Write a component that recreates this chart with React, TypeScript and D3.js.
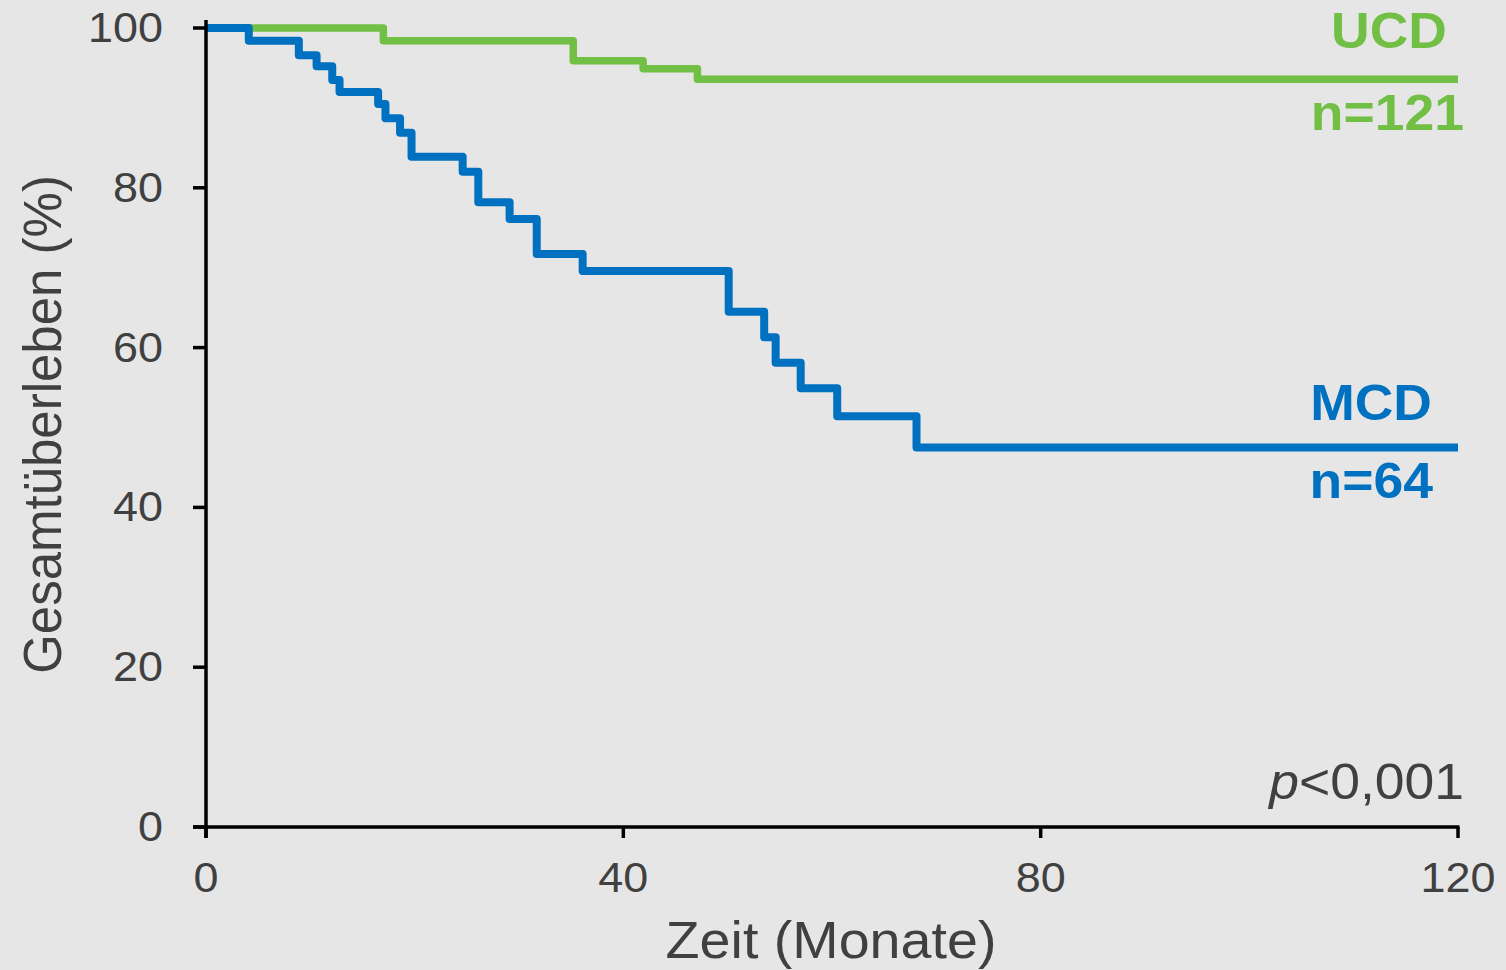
import { useEffect, ReactNode } from "react";
import * as d3 from "d3";

const WIDTH = 1506;
const HEIGHT = 970;
const MARGIN = { top: 28, right: 48, bottom: 143, left: 206 };
// the reference picture is a little wider than tall, text included
const STRETCH = 1.07;

// Kaplan-Meier steps (months, % survival)
const mcdTimes = [0, 4.1, 8.9, 10.6, 12.1, 12.8, 16.5, 17.2, 18.6, 19.7, 24.6, 26.1, 29.1, 31.7, 36.1, 50.1, 53.5, 54.6, 57.0, 60.5, 68.1, 120];
const mcdSurvival = [100, 98.4, 96.6, 95.2, 93.5, 92.0, 90.5, 88.7, 86.9, 83.9, 82.0, 78.2, 76.1, 71.7, 69.6, 64.5, 61.3, 58.1, 54.9, 51.4, 47.5, 47.5];

const ucdTimes = [0, 17.0, 35.2, 41.9, 47.1, 120];
const ucdSurvival = [100, 98.4, 95.9, 94.9, 93.6, 93.6];

const xTicks = [0, 40, 80, 120];
const yTicks = [0, 20, 40, 60, 80, 100];

const BLUE = "#0071C1";
const GREEN = "#71BF44";
const TEXT = "#404040";
const FONT = "'Liberation Sans', Arial, sans-serif";

type LabelProps = {
  x: number;
  y: number;
  rotate?: number;
  anchor?: "start" | "middle" | "end";
  size: number;
  bold?: boolean;
  fill: string;
  children: ReactNode;
};

const Label = ({ x, y, rotate = 0, anchor = "middle", size, bold, fill, children }: LabelProps) => (
  <g transform={`translate(${x},${y}) scale(${STRETCH},1) rotate(${rotate})`}>
    <text textAnchor={anchor} fontSize={size} fontWeight={bold ? "bold" : "normal"} fill={fill}>
      {children}
    </text>
  </g>
);

const App = () => {
  useEffect(() => {
    document.body.style.margin = "0";
    document.body.style.background = "#E6E6E6";
  }, []);

  const boundsWidth = WIDTH - MARGIN.left - MARGIN.right;
  const boundsHeight = HEIGHT - MARGIN.top - MARGIN.bottom;

  const xScale = d3.scaleLinear().domain([0, 120]).range([0, boundsWidth]);
  const yScale = d3.scaleLinear().domain([0, 100]).range([boundsHeight, 0]);

  const line = d3
    .line<[number, number]>()
    .x((d) => xScale(d[0]))
    .y((d) => yScale(d[1]))
    .curve(d3.curveStepAfter);

  const mcdPath = line(mcdTimes.map((t, i) => [t, mcdSurvival[i]]));
  const ucdPath = line(ucdTimes.map((t, i) => [t, ucdSurvival[i]]));

  const lastX = xScale(120);

  return (
    <svg width={WIDTH} height={HEIGHT} style={{ display: "block", background: "#E6E6E6" }}>
      <g transform={`translate(${MARGIN.left},${MARGIN.top})`} fontFamily={FONT}>
        {/* curves, green first so blue sits on top at 100% */}
        <path d={ucdPath ?? ""} fill="none" stroke={GREEN} strokeWidth={7.5} strokeLinejoin="round" />
        <path d={mcdPath ?? ""} fill="none" stroke={BLUE} strokeWidth={8} strokeLinejoin="round" />

        {/* y axis */}
        <line x1={0} x2={0} y1={-8} y2={boundsHeight + 11} stroke="black" strokeWidth={3.5} />
        {yTicks.map((t) => (
          <g key={t}>
            <line x1={-13} x2={0} y1={yScale(t)} y2={yScale(t)} stroke="black" strokeWidth={3.5} />
            <Label x={-43} y={yScale(t) + 14} anchor="end" size={42} fill={TEXT}>
              {t}
            </Label>
          </g>
        ))}

        {/* x axis */}
        <line x1={-13} x2={boundsWidth + 1.5} y1={boundsHeight} y2={boundsHeight} stroke="black" strokeWidth={3.5} />
        {xTicks.map((t) => (
          <g key={t}>
            <line x1={xScale(t)} x2={xScale(t)} y1={boundsHeight} y2={boundsHeight + 11} stroke="black" strokeWidth={3.5} />
            <Label x={xScale(t)} y={boundsHeight + 65} size={42} fill={TEXT}>
              {t}
            </Label>
          </g>
        ))}

        {/* axis titles */}
        <Label x={625} y={930} size={52} fill={TEXT}>
          Zeit (Monate)
        </Label>
        <Label x={-145} y={yScale(50) - 3} rotate={-90} size={51} fill={TEXT}>
          Gesamtüberleben (%)
        </Label>

        {/* group labels */}
        <Label x={lastX - 11} y={20} anchor="end" size={50} bold fill={GREEN}>
          UCD
        </Label>
        <Label x={lastX + 6} y={102} anchor="end" size={50} bold fill={GREEN}>
          n=121
        </Label>
        <Label x={lastX - 26} y={392} anchor="end" size={50} bold fill={BLUE}>
          MCD
        </Label>
        <Label x={lastX - 25} y={470} anchor="end" size={50} bold fill={BLUE}>
          n=64
        </Label>

        <Label x={lastX + 6} y={771} anchor="end" size={50} fill={TEXT}>
          <tspan fontStyle="italic">p</tspan>
          {"<0,001"}
        </Label>
      </g>
    </svg>
  );
};

export default App;
